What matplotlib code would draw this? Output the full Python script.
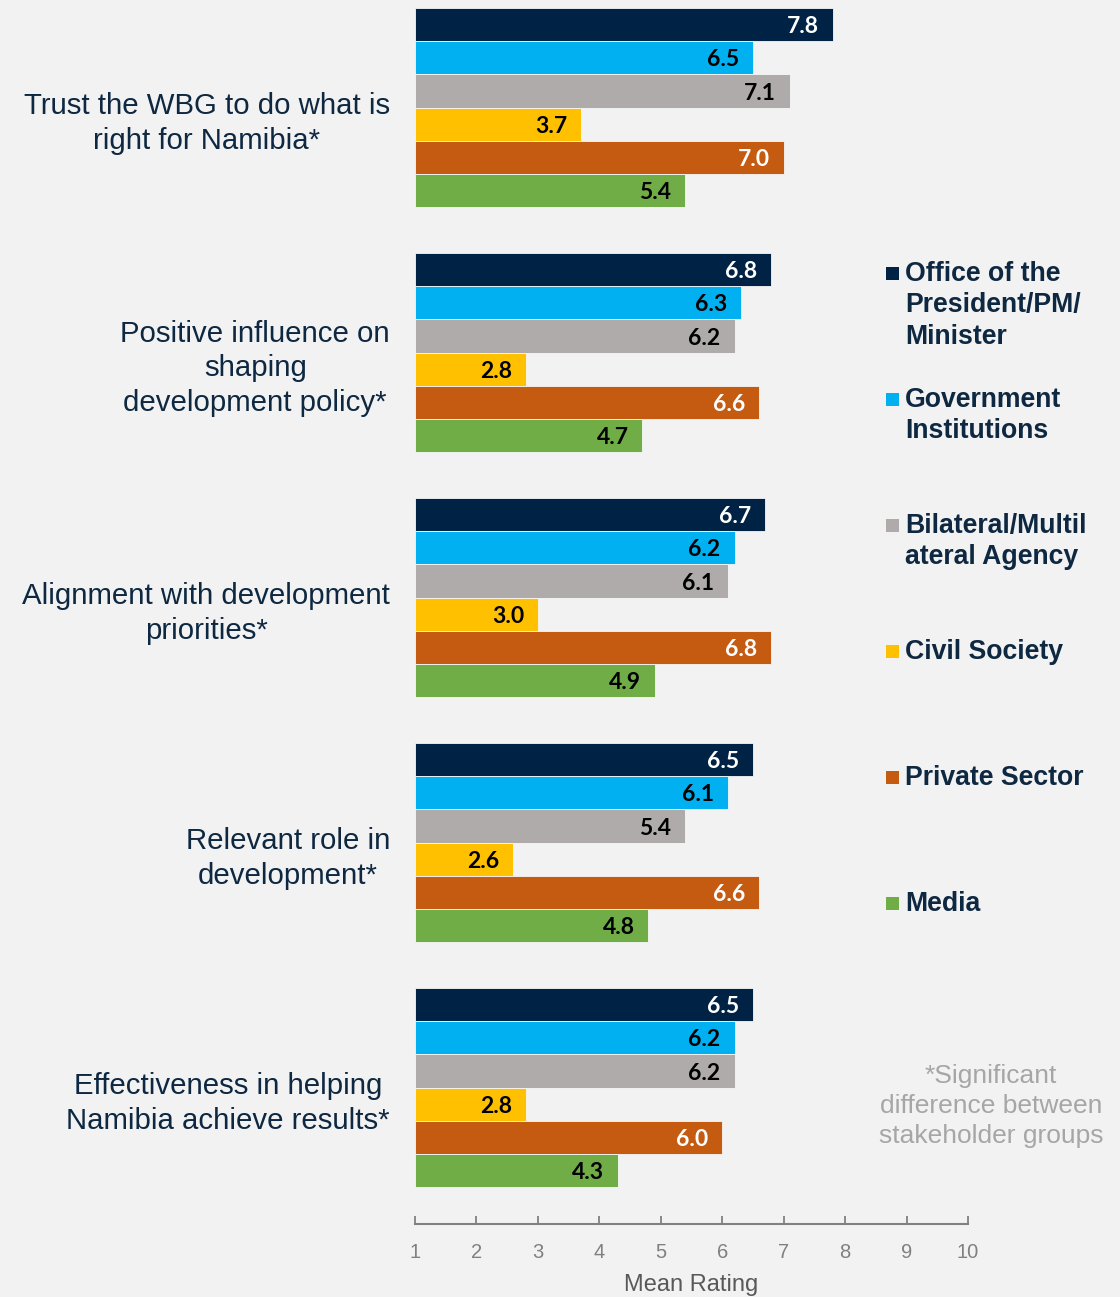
import matplotlib
matplotlib.use("Agg")
import matplotlib.pyplot as plt
import numpy as np

categories = [
    "Trust the WBG to do what is\nright for Namibia*",
    "Positive influence on\nshaping\ndevelopment policy*",
    "Alignment with development\npriorities*",
    "Relevant role in\ndevelopment*",
    "Effectiveness in helping\nNamibia achieve results*",
]
series_names = [
    "Office of the\nPresident/PM/\nMinister",
    "Government\nInstitutions",
    "Bilateral/Multil\nateral Agency",
    "Civil Society",
    "Private Sector",
    "Media",
]
office = [7.8, 6.8, 6.7, 6.5, 6.5]
government = [6.5, 6.3, 6.2, 6.1, 6.2]
bilateral = [7.1, 6.2, 6.1, 5.4, 6.2]
civil = [3.7, 2.8, 3.0, 2.6, 2.8]
private = [7.0, 6.6, 6.8, 6.6, 6.0]
media = [5.4, 4.7, 4.9, 4.8, 4.3]
series_values = [office, government, bilateral, civil, private, media]
xticks = [1, 2, 3, 4, 5, 6, 7, 8, 9, 10]

colors = ["#002244", "#00B0F0", "#AFABAB", "#FFC000", "#C55A11", "#70AD47"]
label_colors = ["white", "black", "black", "black", "white", "black"]
navy = "#0E2841"
bg = "#F2F2F2"

W, H = 1120, 1297
fig = plt.figure(figsize=(W / 100, H / 100), dpi=100, facecolor=bg)
ax_left, ax_right, ax_top, ax_bottom = 415, 968, 0, 1224
ax = fig.add_axes([ax_left / W, 1 - ax_bottom / H, (ax_right - ax_left) / W, (ax_bottom - ax_top) / H])
ax.set_facecolor(bg)

spacing_px = 245.0
first_center_px = 107.5
bar_h = 33.1 / spacing_px
n_groups = len(categories)
centers = np.arange(n_groups)

for j, (vals, c, lc) in enumerate(zip(series_values, colors, label_colors)):
    ys = centers + (j - 2.5) * bar_h
    vals = np.array(vals)
    ax.barh(ys, vals - 1, left=1, height=bar_h, color=c, edgecolor="#F7F7F7", linewidth=0.6)
    for y, v in zip(ys, vals):
        ax.annotate(f"{v:.1f}", xy=(v, y), xytext=(-10, -1.5), textcoords="offset points",
                    ha="right", va="center", fontsize=16.5, fontweight="bold",
                    family=["Lato", "DejaVu Sans"], color=lc)

ax.set_xlim(1, 10)
ax.set_ylim((ax_bottom - first_center_px) / spacing_px, -first_center_px / spacing_px)
ax.set_xticks(xticks)
ax.set_xticklabels([str(t) for t in xticks], family=["Liberation Sans"], fontsize=14.5, color="#808080")
ax.tick_params(axis="x", direction="in", length=6, width=1.3, color="#808080", pad=14)
ax.set_yticks([])
for s in ["left", "top", "right"]:
    ax.spines[s].set_visible(False)
ax.spines["bottom"].set_color("#808080")
ax.spines["bottom"].set_linewidth(1.5)
ax.set_xlabel("Mean Rating", family=["Liberation Sans"], fontsize=17, color="#595959", labelpad=8)

for i, cat in enumerate(categories):
    ax.annotate(cat, xy=(0, centers[i]), xycoords=ax.get_yaxis_transform(),
                xytext=(-18, -11.5), textcoords="offset points", ha="right", va="center",
                multialignment="center", fontsize=21.2, family=["Liberation Sans"], color=navy,
                linespacing=1.29)

# Legend (manual)
for i, (name, c) in enumerate(zip(series_names, colors)):
    y_px = 274 + i * 126
    fig.patches.append(matplotlib.patches.Rectangle(
        (886 / W, 1 - (y_px + 6) / H), 13 / W, 13 / H, transform=fig.transFigure,
        facecolor=c, edgecolor="none"))
    fig.text(905 / W, 1 - (y_px - 13) / H, name, ha="left", va="top", fontsize=19.2,
             fontweight="bold", family=["Liberation Sans"], color=navy, linespacing=1.27)

fig.text(991 / W, 1 - 1106 / H, "*Significant\ndifference between\nstakeholder groups",
         ha="center", va="center", multialignment="center", fontsize=19,
         family=["Liberation Sans"], color="#A6A6A6", linespacing=1.33)

fig.savefig("out.png", dpi=100, facecolor=bg)
